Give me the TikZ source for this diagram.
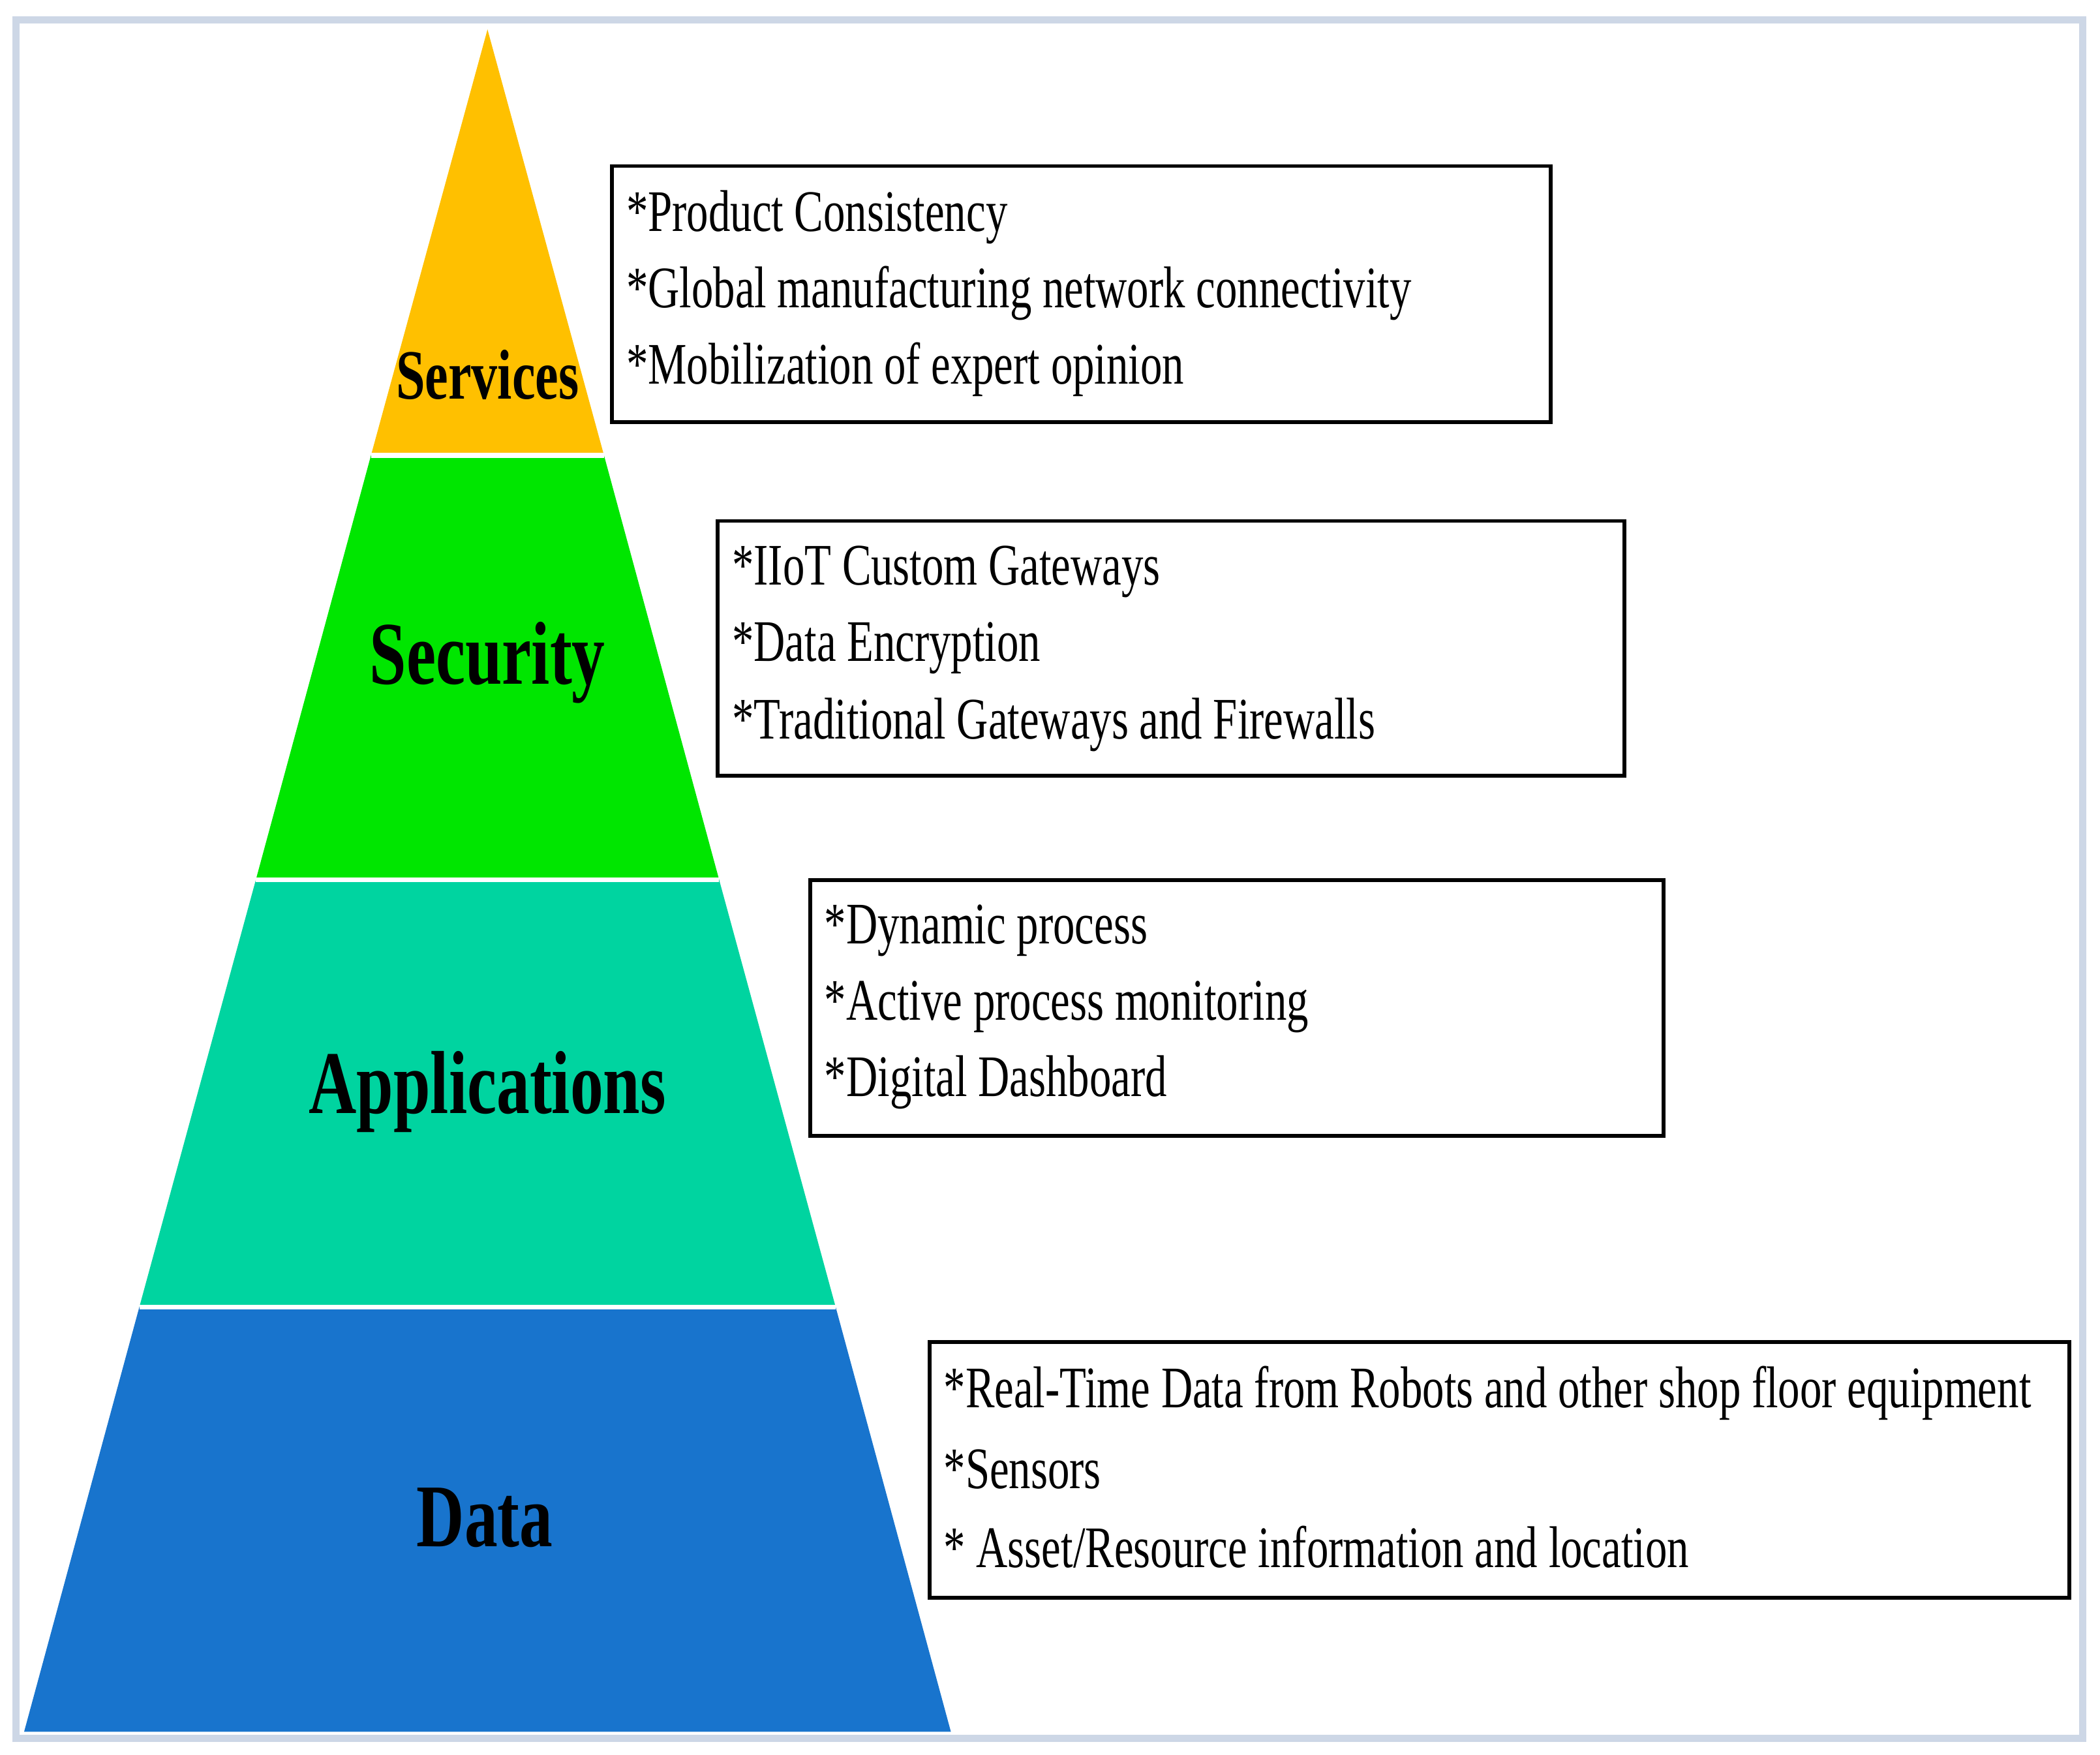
\documentclass[tikz,border=0pt]{standalone}
\usepackage{fontspec}
\newfontfamily\cond{Liberation Serif}[FakeStretch=0.74]
\begin{document}
\begin{tikzpicture}[x=0.01cm,y=-0.01cm,
  box/.style={draw=black,line width=0.8pt,fill=white},
  item/.style={anchor=west,inner sep=0pt,font=\cond\fontsize{12.5}{14}\selectfont},
  lab/.style={font=\cond\bfseries\fontsize{19}{22}\selectfont,inner sep=0pt},
  sep/.style={draw=white,line width=1pt}]
\useasboundingbox (0,0) rectangle (1568,1310);
\draw[draw={rgb,255:red,205;green,215;blue,230},line width=1.5pt] (12,15) rectangle (1555,1298);
% pyramid
\fill[fill={rgb,255:red,255;green,192;blue,0}] (364,22) -- (451,340) -- (277,340) -- cycle;
\fill[fill={rgb,255:red,0;green,230;blue,0}] (277,340) -- (451,340) -- (537,657) -- (191,657) -- cycle;
\fill[fill={rgb,255:red,0;green,212;blue,160}] (191,657) -- (537,657) -- (624,976) -- (104,976) -- cycle;
\fill[fill={rgb,255:red,24;green,116;blue,205}] (104,976) -- (624,976) -- (710,1293) -- (18,1293) -- cycle;
\draw[sep] (277,340) -- (451,340);
\draw[sep] (191,657) -- (537,657);
\draw[sep] (104,976) -- (624,976);
\node[lab,font=\cond\bfseries\fontsize{15}{18}\selectfont] (services) at (364,280) {Services};
\node[lab] (security) at (364,495) {Security};
\node[lab] (applications) at (364,815) {Applications};
\node[lab] (data) at (362,1133) {Data};
% boxes
\draw[box] (457,124) rectangle (1158,315);
\node[item] (s1) at (467,162) {*Product Consistency};
\node[item] (s2) at (467,219) {*Global manufacturing network connectivity};
\node[item] (s3) at (467,276) {*Mobilization of expert opinion};
\draw[box] (536,389) rectangle (1213,579);
\node[item] (c1) at (546,427) {*IIoT Custom Gateways};
\node[item] (c2) at (546,484) {*Data Encryption};
\node[item] (c3) at (546,541) {*Traditional Gateways and Firewalls};
\draw[box] (605,657) rectangle (1242,848);
\node[item] (a1) at (615,695) {*Dynamic process};
\node[item] (a2) at (615,752) {*Active process monitoring};
\node[item] (a3) at (615,808) {*Digital Dashboard};
\draw[box] (694,1002) rectangle (1545,1193);
\node[item] (d1) at (704,1040) {*Real-Time Data from Robots and other shop floor equipment};
\node[item] (d2) at (704,1097) {*Sensors};
\node[item] (d3) at (704,1155) {* Asset/Resource information and location};
\end{tikzpicture}
\end{document}
